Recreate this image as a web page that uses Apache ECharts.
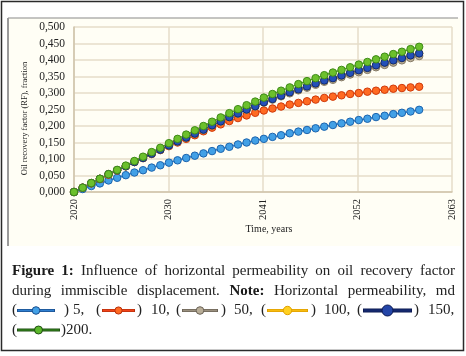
<!DOCTYPE html>
<html>
<head>
<meta charset="utf-8">
<script src="https://cdn.jsdelivr.net/npm/echarts@6/dist/echarts.min.js"></script>
<style>
html, body { margin: 0; padding: 0; background: #fff; }
#main { width: 466px; height: 356px; }
</style>
</head>
<body>
<div id="main"></div>
<script>
// yearly points, first of january
var years = [2020,2021,2022,2023,2024,2025,2026,2027,2028,2029,2030,2031,2032,2033,2034,2035,2036,2037,2038,2039,2040,
             2041,2042,2043,2044,2045,2046,2047,2048,2049,2050,2051,2052,2053,2054,2055,2056,2057,2058,2059,2060];

// recovery factor, fraction, per horizontal permeability (md)
var rf5   = [0,.009,.018,.026,.035,.043,.051,.059,.066,.074,.081,.089,.096,.103,.110,.117,.124,.131,.137,.144,.150,
             .156,.161,.167,.172,.178,.183,.188,.193,.198,.203,.208,.213,.218,.222,.227,.231,.236,.240,.244,.249];
var rf10  = [0,.013,.026,.039,.052,.065,.078,.091,.103,.115,.127,.139,.150,.161,.172,.184,.195,.205,.215,.224,.232,
             .240,.247,.253,.259,.265,.270,.275,.280,.285,.289,.293,.297,.300,.304,.307,.310,.313,.315,.317,.319];
var rf50  = [0,.013,.027,.040,.054,.066,.078,.091,.103,.116,.128,.141,.153,.165,.177,.189,.202,.214,.227,.238,.250,
             .259,.271,.280,.290,.299,.308,.316,.325,.334,.340,.348,.356,.363,.370,.378,.385,.392,.399,.406,.412];
var rf100 = [0,.013,.027,.040,.054,.066,.078,.091,.103,.116,.128,.141,.153,.165,.177,.189,.202,.214,.227,.238,.250,
             .260,.272,.282,.292,.302,.311,.320,.329,.338,.345,.353,.361,.369,.376,.384,.392,.399,.406,.414,.420];
var rf150 = [0,.013,.027,.040,.054,.066,.078,.091,.103,.116,.128,.141,.153,.165,.177,.189,.202,.214,.227,.238,.250,
             .260,.272,.282,.292,.302,.311,.320,.329,.338,.345,.353,.361,.369,.376,.384,.392,.399,.406,.414,.420];
var rf200 = [0,.013,.027,.040,.054,.067,.080,.094,.107,.121,.134,.148,.161,.174,.187,.200,.213,.226,.239,.251,.263,
             .274,.286,.297,.307,.317,.327,.336,.345,.354,.362,.370,.378,.386,.394,.402,.410,.418,.425,.433,.440];

var xTickLabels = ['2020','2030','2041','2052','2063'];

var serif = '"Liberation Serif", "DejaVu Serif", serif';
var day0 = Date.UTC(2020, 0, 1);

function pts(vals) {
  return years.map(function (y, i) {
    return [Math.round((Date.UTC(y, 0, 1) - day0) / 864e5), vals[i]];
  });
}

function line(name, vals, fill, edge, lineCol) {
  return {
    name: name, type: 'line', data: pts(vals),
    symbol: 'circle', symbolSize: 7.5, showAllSymbol: true,
    lineStyle: { color: lineCol, width: 1.5 },
    itemStyle: { color: fill, borderColor: edge, borderWidth: 1 },
    emphasis: { disabled: true }
  };
}

// caption text, justified between two x positions
var mctx = document.createElement('canvas').getContext('2d');
function fontOf(b) { return (b ? 'bold ' : '') + '15px ' + serif; }
function justify(words, y, x0, x1) {
  var w = words.map(function (wd) { mctx.font = fontOf(wd.b); return mctx.measureText(wd.t).width; });
  var tot = w.reduce(function (a, b) { return a + b; }, 0);
  var gap = (x1 - x0 - tot) / (words.length - 1);
  var x = x0, out = [];
  words.forEach(function (wd, i) {
    out.push(txt(wd.t, x, y, wd.b));
    x += w[i] + gap;
  });
  return out;
}
function txt(t, x, y, b) {
  return {
    type: 'text', x: x, y: y, silent: true,
    style: { text: t, font: fontOf(b), fill: b ? '#1a1a1a' : '#222', verticalAlign: 'middle', align: 'left' }
  };
}
function icon(x0, x1, y, dark, mid, dot, r, lw) {
  return [
    { type: 'line', silent: true, shape: { x1: x0, y1: y, x2: x1, y2: y }, style: { stroke: dark, lineWidth: lw } },
    { type: 'line', silent: true, shape: { x1: x0 + 1, y1: y, x2: x1 - 1, y2: y }, style: { stroke: mid, lineWidth: lw - 1.6 } },
    { type: 'circle', silent: true, shape: { cx: (x0 + x1) / 2, cy: y, r: r }, style: { fill: dot, stroke: dark, lineWidth: 1 } }
  ];
}
function ws(s, boldCount) {
  return s.split(' ').map(function (t, i) { return { t: t, b: i < boldCount }; });
}

var cap = [];
cap = cap.concat(justify(ws('Figure 1: Influence of horizontal permeability on oil recovery factor', 2), 271, 12, 455));
var l2 = ws('during immiscible displacement. Note: Horizontal permeability, md', 0);
l2[3].b = true;
cap = cap.concat(justify(l2, 291, 12, 455));
var y3 = 310.5, y4 = 330;
cap.push(txt('(', 12, y3)); cap = cap.concat(icon(17, 55, y3, '#1b4f8f', '#2f7fd0', '#42a0e6', 3.8, 3.2));
cap.push(txt(')', 64, y3)); cap.push(txt('5,', 73, y3));
cap.push(txt('(', 96, y3)); cap = cap.concat(icon(102, 135, y3, '#b8300c', '#f0441a', '#ff6a22', 3.6, 3.2));
cap.push(txt(')', 137, y3)); cap.push(txt('10,', 151, y3));
cap.push(txt('(', 176, y3)); cap = cap.concat(icon(182, 218, y3, '#6c6458', '#9a907e', '#b9ae98', 3.8, 3.2));
cap.push(txt(')', 221, y3)); cap.push(txt('50,', 234, y3));
cap.push(txt('(', 261, y3)); cap = cap.concat(icon(267, 308, y3, '#e0a000', '#f7bc10', '#ffd020', 4.2, 3.2));
cap.push(txt(')', 311, y3)); cap.push(txt('100,', 324, y3));
cap.push(txt('(', 357, y3)); cap = cap.concat(icon(363, 412, y3, '#0b1850', '#14286e', '#2446a8', 5.5, 4));
cap.push(txt(')', 414, y3)); cap.push(txt('150,', 428, y3));
cap.push(txt('(', 12, y4)); cap = cap.concat(icon(17, 60, y4, '#1f4f12', '#2f7a1a', '#5cb82a', 4, 3.2));
cap.push(txt(')200.', 61, y4));

var frame = [
  { type: 'rect', z: -100, silent: true, shape: { x: 8, y: 18, width: 453, height: 228 }, style: { fill: '#fffef5' } },
  { type: 'line', silent: true, shape: { x1: 8, y1: 18, x2: 458, y2: 18 }, style: { stroke: '#8a8a8a', lineWidth: 1.2 } },
  { type: 'line', silent: true, shape: { x1: 8, y1: 18, x2: 8, y2: 246 }, style: { stroke: '#9a9a9a', lineWidth: 2 } },
  { type: 'rect', silent: true, shape: { x: 1.5, y: 1.5, width: 462, height: 349 }, style: { fill: 'none', stroke: '#2a2a2a', lineWidth: 1.5 } },
  {
    type: 'text', silent: true, x: 25, y: 118.5, rotation: Math.PI / 2,
    style: { text: 'Oil recovery factor (RF), fraction', font: '8.5px ' + serif, fill: '#222', align: 'center', verticalAlign: 'middle' }
  }
];

var chart = echarts.init(document.getElementById('main'), null, { renderer: 'canvas' });
chart.setOption({
  animation: false,
  backgroundColor: '#fff',
  grid: { left: 74, right: 14, top: 27, bottom: 164 },
  xAxis: {
    type: 'value', min: 0, max: 16000, interval: 4000,
    name: 'Time, years', nameLocation: 'middle', nameGap: 32,
    nameTextStyle: { fontFamily: serif, fontSize: 10, color: '#222', padding: [0, 0, 0, 12] },
    axisLine: { lineStyle: { color: '#cfc3ab', width: 1.5 } },
    axisTick: { show: false },
    axisLabel: {
      rotate: 90, margin: 7, fontFamily: serif, fontSize: 10.5, color: '#222',
      formatter: function (v) { return xTickLabels[Math.round(v / 4000)]; }
    },
    splitLine: { lineStyle: { color: '#e6dcc8', width: 1.5 } }
  },
  yAxis: {
    type: 'value', min: 0, max: 0.5, interval: 0.05,
    axisLine: { show: true, lineStyle: { color: '#cfc3ab', width: 1.5 } },
    axisTick: { show: false },
    axisLabel: {
      margin: 9, fontFamily: serif, fontSize: 11.5, color: '#222',
      formatter: function (v) { return v.toFixed(3).replace('.', ','); }
    },
    splitLine: { lineStyle: { color: '#e6dcc8', width: 1.5 } }
  },
  series: [
    line('5', rf5, '#42a0e6', '#1d64ad', '#2a7cc8'),
    line('10', rf10, '#ff6a22', '#cf3a0c', '#f04a16'),
    line('50', rf50, '#b9ae98', '#857a66', '#9a907e'),
    line('100', rf100, '#ffd020', '#d9a400', '#f7bc10'),
    line('150', rf150, '#2450b8', '#102a78', '#1a3a98'),
    line('200', rf200, '#6cc02c', '#3f8a18', '#4fa020')
  ],
  graphic: { elements: frame.concat(cap) }
});
</script>
</body>
</html>
